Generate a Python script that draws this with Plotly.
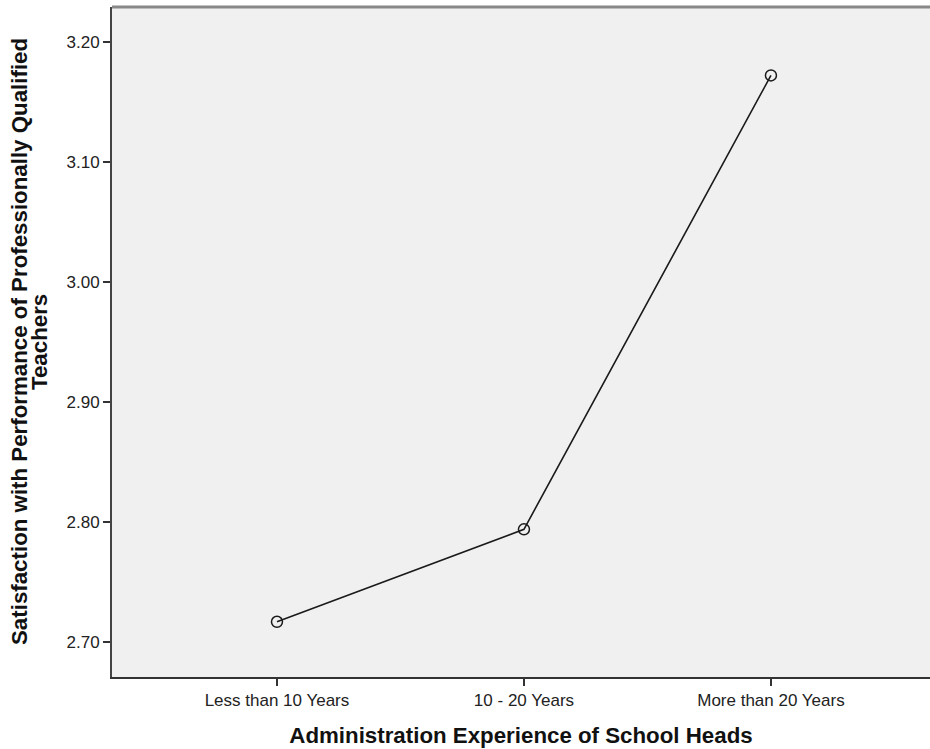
import plotly.graph_objects as go

categories = ["Less than 10 Years", "10 - 20 Years", "More than 20 Years"]
means = [2.717, 2.794, 3.172]
y_ticks = [2.70, 2.80, 2.90, 3.00, 3.10, 3.20]
y_title_lines = ["Satisfaction with Performance of Professionally Qualified", "Teachers"]
x_title = "Administration Experience of School Heads"

fig = go.Figure()
fig.add_trace(go.Scatter(
    x=categories, y=means, mode="lines+markers",
    line=dict(color="#1a1a1a", width=1.6),
    marker=dict(symbol="circle-open", size=11, color="#1a1a1a", line=dict(width=1.5)),
    showlegend=False, hoverinfo="x+y",
))

W, H = 930, 749
L, R, T, B = 112, 0, 7, 72
pw = W - L - R

fig.update_layout(
    width=W, height=H,
    margin=dict(l=L, r=R, t=T, b=B),
    paper_bgcolor="white", plot_bgcolor="#f0f0f0",
    font=dict(family="Liberation Sans, Arial, sans-serif", color="#222", size=17),
    xaxis=dict(
        type="category", range=[-0.668, 2.644],
        showgrid=False, zeroline=False,
        showline=True, linecolor="#333", linewidth=2,
        ticks="outside", ticklen=7, tickcolor="#333", tickwidth=1.5,
        tickfont=dict(size=17, color="#222"),
        title=dict(text="<b>" + x_title + "</b>",
                   font=dict(size=22.3, color="#111"), standoff=18),
    ),
    yaxis=dict(
        range=[2.671, 3.229], tickvals=y_ticks, tickformat=".2f",
        showgrid=False, zeroline=False,
        showline=True, linecolor="#444", linewidth=2,
        ticks="outside", ticklen=7, tickcolor="#333", tickwidth=1.5,
        tickfont=dict(size=17, color="#222"),
    ),
    shapes=[dict(type="line", xref="paper", yref="paper", x0=0, x1=1, y0=1, y1=1,
                 line=dict(color="#888", width=3))],
    annotations=[
        dict(text="<b>" + y_title_lines[0] + "</b>", textangle=-90, showarrow=False,
             xref="paper", yref="paper", x=(19 - L) / pw, y=0.5,
             xanchor="center", yanchor="middle",
             font=dict(size=22.3, color="#111")),
        dict(text="<b>" + y_title_lines[1] + "</b>", textangle=-90, showarrow=False,
             xref="paper", yref="paper", x=(39 - L) / pw, y=0.5,
             xanchor="center", yanchor="middle",
             font=dict(size=22.3, color="#111")),
    ],
)

fig.write_html("out.html", config={"displayModeBar": False},
               post_script="document.body.style.margin='0';document.body.style.overflow='hidden';")
